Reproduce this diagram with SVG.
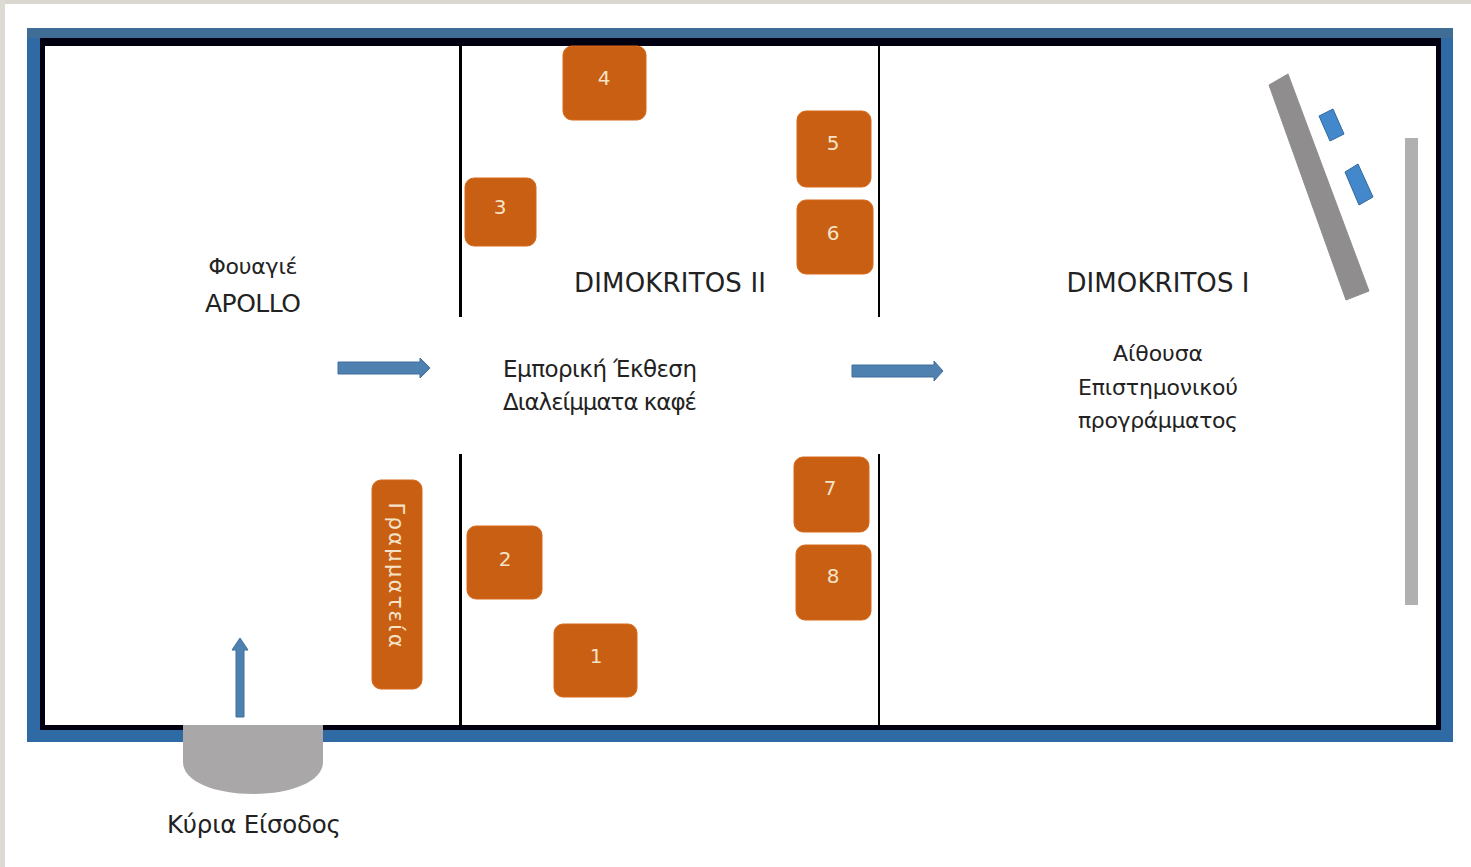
<svg xmlns="http://www.w3.org/2000/svg" width="1471" height="867" viewBox="0 0 1471 867">
<defs>
<style>
.t{font-family:"DejaVu Sans","Noto Sans",sans-serif;fill:#222;}
.n{font-family:"DejaVu Sans",sans-serif;fill:#f5e3c8;font-size:20px;text-anchor:middle;}
.b{fill:#c85f12;stroke:#d8691a;stroke-width:1;}
.w{fill:#000;}
.a{fill:#4f81b0;stroke:#3f6f9e;stroke-width:1;}
.d{fill:#4488cc;stroke:#2f6a9e;stroke-width:1;}
</style>
</defs>
<rect x="0" y="0" width="1471" height="867" fill="#ffffff"/>
<rect x="0" y="0" width="1471" height="4" fill="#d9d7d0"/>
<rect x="0" y="0" width="5" height="867" fill="#dcdad3"/>
<g id="building">
<rect x="27" y="28" width="1426" height="714" fill="#2f6aa5"/>
<rect x="27" y="28" width="1426" height="10" fill="#3f6d96"/>
<rect x="40" y="38" width="1401" height="692" fill="#000010"/>
<rect x="45" y="46" width="1391" height="679" fill="#ffffff"/>
</g>
<g id="walls">
<rect class="w" x="459" y="44" width="3" height="273"/>
<rect class="w" x="459" y="454" width="3" height="272"/>
<rect class="w" x="878" y="44" width="2" height="273"/>
<rect class="w" x="878" y="454" width="2" height="272"/>
</g>
<g id="stage">
<polygon points="1269,85 1288,74 1369,291 1346,300" fill="#8f8d8d" stroke="#8f8d8d" stroke-width="1" stroke-linejoin="round"/>
<polygon class="d" points="1319,116 1333,109 1344,134 1330,141"/>
<polygon class="d" points="1345,172 1358,164 1373,197 1359,205"/>
<rect x="1405" y="138" width="13" height="467" fill="#b0b0b0"/>
</g>
<g id="entrance">
<path d="M183,725 H323 V762 C323,782 290,794 253,794 C216,794 183,782 183,762 Z" fill="#a9a7a7"/>
<text class="t" x="254" y="833" font-size="24.5" text-anchor="middle" textLength="174">Κύρια Είσοδος</text>
</g>
<g id="connectors">
<path class="a" d="M236,717 V650 H232 L240,638 L248,650 H244 V717 Z"/>
<path class="a" d="M338,362 H420 V358 L430,368 L420,378 V374 H338 Z"/>
<path class="a" d="M852,365 H934 V361 L943,371 L934,381 V377 H852 Z"/>
</g>
<g id="foyer">
<text class="t" x="253" y="274" font-size="22" text-anchor="middle" textLength="89">Φουαγιέ</text>
<text class="t" x="253" y="312" font-size="25" text-anchor="middle" textLength="96">APOLLO</text>
</g>
<g id="room2">
<text class="t" x="670" y="292" font-size="26" text-anchor="middle" textLength="192">DIMOKRITOS II</text>
<text class="t" x="600" y="377" font-size="23" text-anchor="middle" textLength="194">Εμπορική Έκθεση</text>
<text class="t" x="600" y="410" font-size="23" text-anchor="middle" textLength="194">Διαλείμματα καφέ</text>
</g>
<g id="room1">
<text class="t" x="1158" y="292" font-size="26" text-anchor="middle" textLength="183">DIMOKRITOS I</text>
<text class="t" x="1158" y="361" font-size="22" text-anchor="middle" textLength="90">Αίθουσα</text>
<text class="t" x="1158" y="395" font-size="22" text-anchor="middle" textLength="160">Επιστημονικού</text>
<text class="t" x="1158" y="428" font-size="22" text-anchor="middle" textLength="160">προγράμματος</text>
</g>
<g id="secretariat">
<rect class="b" x="372" y="480" width="50" height="209" rx="9"/>
<text class="n" transform="translate(389,503) rotate(90)" x="72" y="0" style="font-size:21px" textLength="145">Γραμματεία</text>
</g>
<g id="booth-1"><rect class="b" x="554" y="624" width="83" height="73" rx="9"/><text class="n" x="596" y="663">1</text></g>
<g id="booth-2"><rect class="b" x="467" y="526" width="75" height="73" rx="9"/><text class="n" x="505" y="566">2</text></g>
<g id="booth-3"><rect class="b" x="465" y="178" width="71" height="68" rx="9"/><text class="n" x="500" y="214">3</text></g>
<g id="booth-4"><rect class="b" x="563" y="46" width="83" height="74" rx="9"/><text class="n" x="604" y="85">4</text></g>
<g id="booth-5"><rect class="b" x="797" y="111" width="74" height="76" rx="9"/><text class="n" x="833" y="150">5</text></g>
<g id="booth-6"><rect class="b" x="797" y="200" width="76" height="74" rx="9"/><text class="n" x="833" y="240">6</text></g>
<g id="booth-7"><rect class="b" x="794" y="457" width="75" height="75" rx="9"/><text class="n" x="830" y="495">7</text></g>
<g id="booth-8"><rect class="b" x="796" y="545" width="75" height="75" rx="9"/><text class="n" x="833" y="583">8</text></g>
</svg>
